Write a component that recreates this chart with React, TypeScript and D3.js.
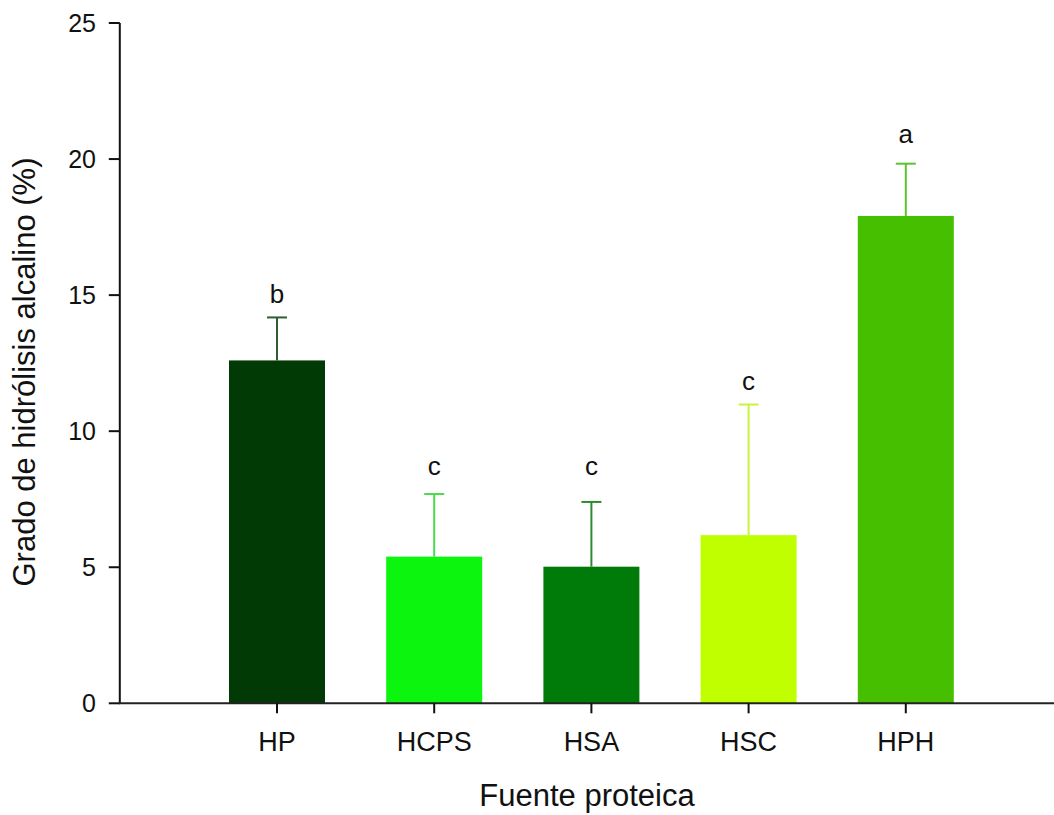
import React, { useEffect, useRef } from "react";
import * as d3 from "d3";

const categories = ["HP", "HCPS", "HSA", "HSC", "HPH"];
const means = [12.6, 5.39, 5.02, 6.18, 17.91];
const errors = [1.58, 2.3, 2.38, 4.8, 1.92];
const letters = ["b", "c", "c", "c", "a"];
const letterLevels = [14.71, 8.39, 8.39, 11.51, 20.6];
const barColors = ["#023a06", "#0cf50f", "#007a08", "#bfff00", "#46bf00"];
const errColors = ["#2e5e2e", "#4cd94c", "#2e8a2e", "#c6f53c", "#5cc230"];
const yTicks = [0, 5, 10, 15, 20, 25];

const W = 1054;
const H = 815;
const FONT = "'Liberation Sans', Arial, Helvetica, sans-serif";

export default function App() {
  const ref = useRef<SVGSVGElement | null>(null);

  useEffect(() => {
    document.body.style.margin = "0";
    const svg = d3.select(ref.current);
    svg.selectAll("*").remove();

    const x = d3.scaleLinear().domain([0, 6]).range([119.8, 1063]);
    const y = d3.scaleLinear().domain([0, 25]).range([703.3, 23]);
    const barW = 96;
    const capW = 20;

    const g = svg.append("g");

    // bars
    g.selectAll("rect.bar")
      .data(categories)
      .join("rect")
      .attr("class", "bar")
      .attr("x", (_d, i) => x(i + 1) - barW / 2)
      .attr("y", (_d, i) => y(means[i]))
      .attr("width", barW)
      .attr("height", (_d, i) => y(0) - y(means[i]))
      .attr("fill", (_d, i) => barColors[i]);

    // error bars
    categories.forEach((_c, i) => {
      const cx = x(i + 1);
      const top = y(means[i] + errors[i]);
      g.append("line")
        .attr("x1", cx).attr("x2", cx)
        .attr("y1", y(means[i])).attr("y2", top)
        .attr("stroke", errColors[i]).attr("stroke-width", 2);
      g.append("line")
        .attr("x1", cx - capW / 2).attr("x2", cx + capW / 2)
        .attr("y1", top).attr("y2", top)
        .attr("stroke", errColors[i]).attr("stroke-width", 2);
      g.append("text")
        .attr("x", cx)
        .attr("y", y(letterLevels[i]))
        .attr("text-anchor", "middle")
        .attr("font-family", FONT)
        .attr("font-size", 26)
        .attr("fill", "#111")
        .text(letters[i]);
    });

    // y axis
    g.append("line")
      .attr("x1", x(0)).attr("x2", x(0))
      .attr("y1", y(25)).attr("y2", y(0))
      .attr("stroke", "#111").attr("stroke-width", 2);
    yTicks.forEach((t) => {
      g.append("line")
        .attr("x1", x(0) - 11).attr("x2", x(0))
        .attr("y1", y(t)).attr("y2", y(t))
        .attr("stroke", "#111").attr("stroke-width", 2);
      g.append("text")
        .attr("x", 96)
        .attr("y", y(t))
        .attr("dy", "0.35em")
        .attr("text-anchor", "end")
        .attr("font-family", FONT)
        .attr("font-size", 25)
        .attr("fill", "#111")
        .text(String(t));
    });

    // x axis
    g.append("line")
      .attr("x1", x(0) - 1).attr("x2", W)
      .attr("y1", y(0)).attr("y2", y(0))
      .attr("stroke", "#222").attr("stroke-width", 2);
    categories.forEach((c, i) => {
      g.append("line")
        .attr("x1", x(i + 1)).attr("x2", x(i + 1))
        .attr("y1", y(0)).attr("y2", y(0) + 10)
        .attr("stroke", "#111").attr("stroke-width", 2);
      g.append("text")
        .attr("x", x(i + 1))
        .attr("y", 750.5)
        .attr("text-anchor", "middle")
        .attr("font-family", FONT)
        .attr("font-size", 27)
        .attr("fill", "#111")
        .text(c);
    });

    // titles
    g.append("text")
      .attr("x", 587)
      .attr("y", 806)
      .attr("text-anchor", "middle")
      .attr("font-family", FONT)
      .attr("font-size", 31)
      .attr("fill", "#111")
      .text("Fuente proteica");

    g.append("text")
      .attr("transform", "translate(35,372) rotate(-90)")
      .attr("text-anchor", "middle")
      .attr("font-family", FONT)
      .attr("font-size", 31)
      .attr("fill", "#111")
      .text("Grado de hidrólisis alcalino (%)");
  }, []);

  return (
    <svg
      ref={ref}
      width={W}
      height={H}
      style={{ position: "absolute", left: 0, top: 0, background: "#fff" }}
    />
  );
}
